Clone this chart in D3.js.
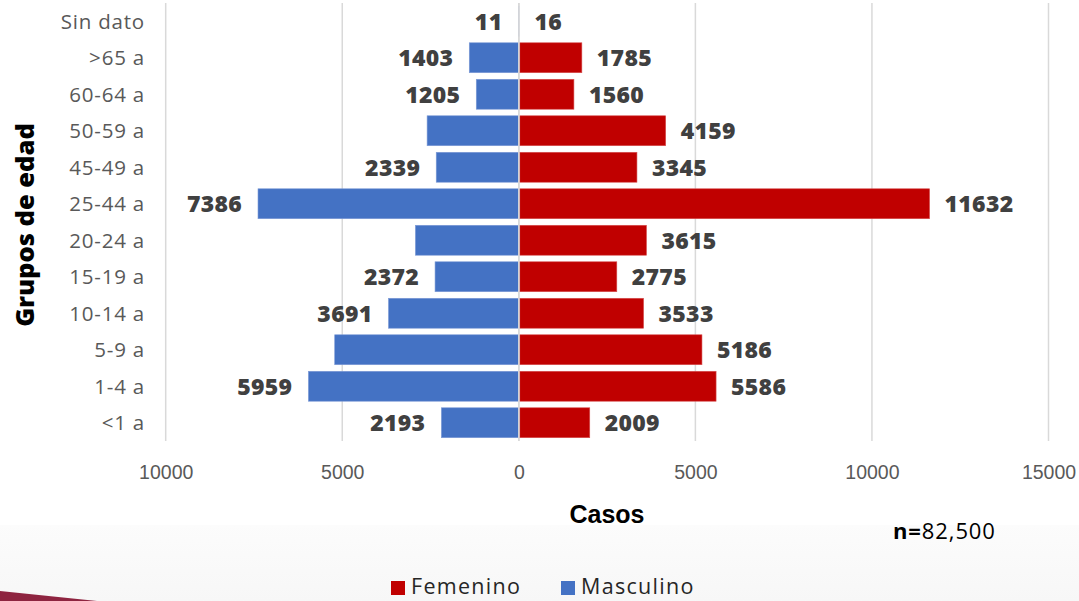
<!DOCTYPE html>
<html>
<head>
<meta charset="utf-8">
<script src="https://cdn.jsdelivr.net/npm/d3@7"></script>
<style>
  html, body { margin: 0; padding: 0; background: #fff; }
  svg { display: block; }
</style>
</head>
<body>
<svg id="chart" width="1079" height="601"></svg>
<script>
// ---- data ----
const categories = ["Sin dato", ">65 a", "60-64 a", "50-59 a", "45-49 a", "25-44 a", "20-24 a", "15-19 a", "10-14 a", "5-9 a", "1-4 a", "<1 a"];
const femenino  = [16, 1785, 1560, 4159, 3345, 11632, 3615, 2775, 3533, 5186, 5586, 2009];
const masculino = [11, 1403, 1205, 2597, 2339, 7386, 2929, 2372, 3691, 5214, 5959, 2193];
// male labels not shown in the source picture for these groups
const masculinoLabelHidden = ["50-59 a", "20-24 a", "5-9 a"];
const xTicks = [-10000, -5000, 0, 5000, 10000, 15000];
const seriesNames = ["Femenino", "Masculino"];
const seriesColors = ["#C00000", "#4472C4"];
const totalLabel = ["n=", "82,500"];

// ---- layout ----
const svg = d3.select("#chart");
const W = 1079, H = 601;

// background band + decoration
const grad = svg.append("defs").append("linearGradient")
  .attr("id", "bg").attr("x1", 0).attr("y1", 0).attr("x2", 0).attr("y2", 1);
grad.append("stop").attr("offset", "0%").attr("stop-color", "#fcfcfc");
grad.append("stop").attr("offset", "100%").attr("stop-color", "#f7f7f7");
svg.append("rect").attr("x", 0).attr("y", 525).attr("width", W).attr("height", H - 525).attr("fill", "url(#bg)");
svg.append("path").attr("d", "M0,591 L97,601 L0,601 Z").attr("fill", "#8E2440");

const x = d3.scaleLinear().domain([-10000, 15000]).range([165.7, 1048.5]);
const y = d3.scaleBand().domain(categories).range([3, 441]).paddingInner(0.18).paddingOuter(0.09);

// gridlines
svg.append("g").selectAll("line").data(xTicks).join("line")
  .attr("x1", d => x(d)).attr("x2", d => x(d))
  .attr("y1", 3).attr("y2", 441)
  .attr("stroke", "#d9d9d9").attr("stroke-width", 1.5);

// x axis labels
const xAxis = d3.axisBottom(x).tickValues(xTicks).tickSize(0).tickPadding(0)
  .tickFormat(d => String(Math.abs(d)));
const gx = svg.append("g").attr("transform", "translate(0,465)").call(xAxis);
gx.select(".domain").remove();
gx.selectAll("text")
  .attr("font-family", "'Liberation Sans', Arial, sans-serif")
  .attr("font-size", 19.5).attr("fill", "#595959").attr("dy", "0.72em").attr("y", 0);

// bars
const rows = categories.map((c, i) => ({ c, f: femenino[i], m: masculino[i] }));
const bh = y.bandwidth();
svg.append("g").selectAll("rect").data(rows).join("rect")
  .attr("x", d => x(-d.m)).attr("width", d => x(0) - x(-d.m))
  .attr("y", d => y(d.c)).attr("height", bh)
  .attr("fill", seriesColors[1]).attr("stroke", "#7d9bd6").attr("stroke-width", 0.6);
svg.append("g").selectAll("rect").data(rows).join("rect")
  .attr("x", x(0) + 1).attr("width", d => Math.max(0, x(d.f) - x(0) - 1))
  .attr("y", d => y(d.c)).attr("height", bh)
  .attr("fill", seriesColors[0]).attr("stroke", "#d65050").attr("stroke-width", 0.6);

// center line
svg.append("line").attr("x1", x(0)).attr("x2", x(0)).attr("y1", 3).attr("y2", 441)
  .attr("stroke", "#d9d9d9").attr("stroke-width", 1.5);

// category labels
svg.append("g").selectAll("text").data(categories).join("text")
  .attr("x", 145).attr("y", d => y(d) + bh / 2 + 7.5)
  .attr("text-anchor", "end")
  .attr("font-family", "'Open Sans', sans-serif").attr("font-size", 20.5)
  .attr("letter-spacing", 0.8)
  .attr("fill", "#595959").text(d => d);

// data labels
const lblFont = "'Open Sans', sans-serif";
svg.append("g").selectAll("text").data(rows).join("text")
  .attr("x", d => x(d.f) + 15).attr("y", d => y(d.c) + bh / 2 + 8.5)
  .attr("font-family", lblFont).attr("font-weight", 800).attr("font-size", 23)
  .attr("letter-spacing", 0.3)
  .attr("fill", "#404040").text(d => d.f);
svg.append("g").selectAll("text").data(rows.filter(d => !masculinoLabelHidden.includes(d.c))).join("text")
  .attr("x", d => x(-d.m) - 16).attr("y", d => y(d.c) + bh / 2 + 8.5)
  .attr("text-anchor", "end")
  .attr("font-family", lblFont).attr("font-weight", 800).attr("font-size", 23)
  .attr("letter-spacing", 0.3)
  .attr("fill", "#404040").text(d => d.m);

// y axis title
svg.append("text")
  .attr("transform", "translate(34,225) rotate(-90)")
  .attr("text-anchor", "middle")
  .attr("font-family", "'Open Sans', sans-serif").attr("font-weight", 800).attr("font-size", 25.5)
  .attr("fill", "#000").text("Grupos de edad");

// x axis title
svg.append("text").attr("x", 607).attr("y", 523).attr("text-anchor", "middle")
  .attr("font-family", "'Liberation Sans', Arial, sans-serif").attr("font-weight", 700).attr("font-size", 25)
  .attr("fill", "#000").text("Casos");

// n label
const nt = svg.append("text").attr("x", 893).attr("y", 539)
  .attr("font-family", "'Open Sans', sans-serif").attr("font-size", 22).attr("letter-spacing", 0.9).attr("fill", "#000");
nt.append("tspan").attr("font-weight", 700).text(totalLabel[0]);
nt.append("tspan").text(totalLabel[1]);

// legend
const legendX = [391, 561];
const lg = svg.append("g").selectAll("g").data(seriesNames).join("g")
  .attr("transform", (d, i) => `translate(${legendX[i]},0)`);
lg.append("rect").attr("x", 0).attr("y", 581).attr("width", 14).attr("height", 14)
  .attr("fill", (d, i) => seriesColors[i]);
lg.append("text").attr("x", 20).attr("y", 594)
  .attr("font-family", "'Open Sans', sans-serif").attr("font-size", 21.5).attr("letter-spacing", 1.3)
  .attr("fill", "#262626").text(d => d);
</script>
</body>
</html>
